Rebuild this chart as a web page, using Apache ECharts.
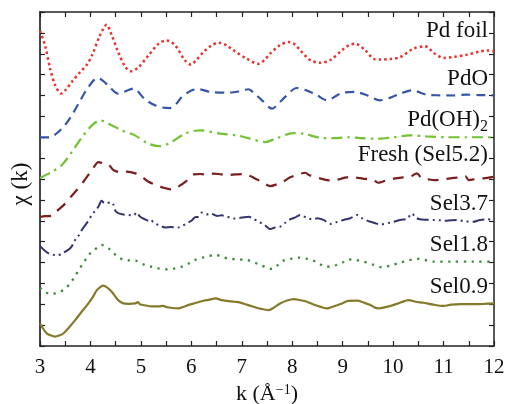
<!DOCTYPE html>
<html>
<head>
<meta charset="utf-8">
<script src="https://cdn.jsdelivr.net/npm/echarts@6/dist/echarts.min.js"></script>
<style>html,body{margin:0;padding:0;background:#fff;}#c{width:508px;height:404px;}</style>
</head>
<body>
<div id="c"></div>
<script>
const xTicks = [3,4,5,6,7,8,9,10,11,12];
const seriesNames = ['Pd foil','PdO','Pd(OH)2','Fresh (Sel5.2)','Sel3.7','Sel1.8','Sel0.9'];
const pdFoil = [[3.0,15.1],[3.1,14.4],[3.2,13.3],[3.3,12.5],[3.42,12.09],[3.52,12.3],[3.63,12.65],[3.8,13.13],[3.92,13.45],[4.03,13.92],[4.19,14.88],[4.32,15.39],[4.42,14.9],[4.55,14.08],[4.69,13.37],[4.81,13.16],[4.95,13.35],[5.15,13.92],[5.35,14.48],[5.51,14.64],[5.68,14.4],[5.87,13.69],[5.99,13.48],[6.1,13.7],[6.24,14.08],[6.4,14.4],[6.54,14.53],[6.7,14.4],[6.84,14.16],[7.1,13.76],[7.33,13.52],[7.45,13.7],[7.56,14.0],[7.75,14.4],[7.93,14.56],[8.05,14.45],[8.16,14.16],[8.36,13.69],[8.55,13.57],[8.75,13.69],[9.0,14.2],[9.12,14.4],[9.25,14.48],[9.45,14.16],[9.61,13.76],[9.74,13.72],[9.95,13.75],[10.14,13.84],[10.4,14.24],[10.63,14.36],[10.83,14.0],[11.0,13.8],[11.2,13.85],[11.46,13.95],[11.7,14.1],[11.86,14.16],[12.0,14.12]];
const pdO = [[3.0,9.99],[3.2,10.0],[3.36,10.25],[3.5,10.6],[3.63,11.05],[3.8,11.77],[3.96,12.41],[4.14,12.84],[4.25,12.7],[4.36,12.46],[4.55,12.09],[4.69,12.2],[4.85,12.33],[5.08,11.82],[5.28,11.53],[5.45,11.42],[5.58,11.4],[5.7,11.6],[5.81,11.93],[6.01,12.25],[6.14,12.3],[6.38,12.17],[6.77,12.14],[6.95,12.2],[7.13,12.3],[7.25,12.1],[7.4,11.77],[7.6,11.37],[7.72,11.6],[7.86,11.93],[8.09,12.36],[8.36,12.17],[8.5,12.0],[8.69,11.77],[8.85,11.95],[8.98,12.12],[9.25,12.17],[9.48,12.01],[9.74,11.77],[9.95,11.9],[10.14,12.09],[10.37,12.25],[10.66,12.04],[10.93,12.01],[11.2,12.0],[11.45,12.04],[11.7,12.02],[12.0,12.01]];
const pdOH2 = [[3.0,8.05],[3.23,8.34],[3.43,8.66],[3.63,9.29],[3.83,10.0],[4.03,10.57],[4.19,10.81],[4.36,10.65],[4.62,10.33],[4.88,10.09],[5.15,9.69],[5.38,9.57],[5.61,9.77],[5.87,10.17],[6.07,10.31],[6.18,10.33],[6.57,10.17],[6.9,10.09],[7.17,9.93],[7.46,9.77],[7.7,9.96],[8.02,10.2],[8.22,10.17],[8.62,9.96],[8.88,9.96],[9.11,10.0],[9.35,9.96],[9.68,9.93],[10.0,10.0],[10.33,10.09],[10.66,10.04],[11.06,10.0],[11.46,10.0],[12.0,10.0]];
const fresh = [[3.0,6.18],[3.1,6.22],[3.23,6.24],[3.35,6.5],[3.47,6.75],[3.53,6.91],[3.63,7.2],[3.73,7.47],[3.86,7.87],[4.03,8.43],[4.16,8.81],[4.26,8.74],[4.36,8.69],[4.46,8.42],[4.6,8.33],[4.72,8.35],[4.89,8.27],[5.02,8.1],[5.15,7.87],[5.31,7.71],[5.45,7.58],[5.61,7.5],[5.74,7.63],[5.9,7.9],[6.05,8.22],[6.18,8.24],[6.3,8.2],[6.42,8.26],[6.54,8.24],[6.71,8.19],[6.88,8.22],[7.04,8.24],[7.17,8.14],[7.28,8.0],[7.4,7.87],[7.56,7.66],[7.7,7.75],[7.82,7.87],[7.96,8.08],[8.1,8.2],[8.26,8.3],[8.34,8.18],[8.42,8.14],[8.55,8.03],[8.69,7.95],[8.82,7.92],[8.95,8.0],[9.08,8.08],[9.21,8.08],[9.4,8.02],[9.61,7.95],[9.71,7.82],[9.85,7.92],[10.04,8.03],[10.2,8.08],[10.35,8.12],[10.47,8.27],[10.57,8.03],[10.7,7.98],[10.83,7.95],[11.0,7.99],[11.2,8.05],[11.38,8.1],[11.43,8.14],[11.5,7.95],[11.65,8.0],[11.79,8.03],[12.0,8.11]];
const sel37 = [[3.0,4.8],[3.08,4.6],[3.17,4.44],[3.25,4.38],[3.33,4.33],[3.45,4.45],[3.6,4.68],[3.68,5.0],[3.73,5.24],[3.78,5.32],[3.83,5.56],[3.93,5.9],[4.03,6.28],[4.1,6.5],[4.16,6.68],[4.22,6.96],[4.27,6.85],[4.32,6.83],[4.4,6.9],[4.46,6.75],[4.5,6.45],[4.56,6.35],[4.65,6.3],[4.76,6.28],[4.85,6.25],[4.92,6.4],[4.98,6.2],[5.08,6.07],[5.15,6.0],[5.2,6.05],[5.25,5.91],[5.35,5.8],[5.48,5.68],[5.6,5.7],[5.74,5.68],[5.82,5.75],[5.91,5.87],[6.0,6.0],[6.07,6.16],[6.14,6.2],[6.21,6.39],[6.3,6.3],[6.38,6.35],[6.51,6.23],[6.6,6.26],[6.7,6.2],[6.84,6.11],[7.0,6.15],[7.14,6.19],[7.22,6.1],[7.34,5.95],[7.45,5.8],[7.57,5.6],[7.66,5.68],[7.76,5.72],[7.85,5.88],[7.93,6.04],[8.05,6.15],[8.16,6.28],[8.3,6.12],[8.42,6.07],[8.5,6.12],[8.62,6.04],[8.75,5.85],[8.9,5.95],[9.02,6.04],[9.15,6.12],[9.28,6.28],[9.4,6.1],[9.55,5.95],[9.65,5.88],[9.74,5.83],[9.94,5.91],[10.05,5.98],[10.14,6.04],[10.28,6.1],[10.37,6.35],[10.45,6.15],[10.53,6.07],[10.65,6.05],[10.8,6.04],[10.95,6.02],[11.06,6.0],[11.26,6.04],[11.4,5.98],[11.59,5.95],[11.7,6.02],[11.86,6.07],[12.0,6.04]];
const sel18 = [[3.0,2.8],[3.1,2.6],[3.2,2.49],[3.3,2.52],[3.4,2.6],[3.5,2.75],[3.6,3.0],[3.68,3.3],[3.77,3.64],[3.85,3.95],[3.93,4.23],[4.0,4.45],[4.09,4.63],[4.16,4.75],[4.22,4.84],[4.29,4.78],[4.36,4.68],[4.44,4.5],[4.52,4.31],[4.59,4.2],[4.66,4.12],[4.78,4.1],[4.89,4.09],[5.08,3.88],[5.2,3.8],[5.35,3.72],[5.54,3.67],[5.68,3.72],[5.81,3.8],[5.95,3.95],[6.07,4.12],[6.24,4.25],[6.48,4.36],[6.6,4.28],[6.71,4.2],[6.9,4.15],[7.1,4.12],[7.25,4.0],[7.37,3.88],[7.5,3.75],[7.6,3.69],[7.7,3.85],[7.83,4.09],[7.98,4.18],[8.13,4.23],[8.28,4.18],[8.42,4.09],[8.55,3.92],[8.65,3.8],[8.78,3.82],[8.88,3.88],[9.0,4.0],[9.11,4.15],[9.25,4.12],[9.41,4.04],[9.6,3.9],[9.78,3.77],[9.95,3.86],[10.14,3.99],[10.3,4.1],[10.47,4.18],[10.63,4.12],[10.8,4.04],[11.13,4.04],[11.6,4.04],[12.0,4.04]];
const sel09 = [[3.0,1.08],[3.13,0.61],[3.22,0.5],[3.3,0.45],[3.38,0.5],[3.47,0.61],[3.58,0.9],[3.7,1.25],[3.83,1.65],[3.96,2.04],[4.05,2.35],[4.12,2.65],[4.2,2.83],[4.26,2.89],[4.32,2.82],[4.39,2.68],[4.47,2.45],[4.55,2.2],[4.65,2.04],[4.75,2.02],[4.89,2.04],[4.94,2.1],[4.98,2.0],[5.1,1.94],[5.21,1.9],[5.35,1.9],[5.45,1.92],[5.5,1.87],[5.62,1.82],[5.74,1.8],[5.85,1.88],[5.94,1.96],[6.1,2.07],[6.24,2.17],[6.36,2.22],[6.48,2.28],[6.6,2.2],[6.71,2.16],[6.85,2.12],[6.97,2.08],[7.1,1.98],[7.23,1.88],[7.38,1.78],[7.53,1.72],[7.65,1.86],[7.76,2.04],[7.9,2.18],[8.03,2.25],[8.15,2.2],[8.29,2.12],[8.45,1.96],[8.58,1.86],[8.69,1.8],[8.8,1.88],[8.92,1.98],[9.0,2.05],[9.11,2.16],[9.28,2.17],[9.42,2.08],[9.55,1.96],[9.63,1.85],[9.71,1.8],[9.85,1.86],[10.0,1.96],[10.15,2.08],[10.3,2.2],[10.45,2.12],[10.6,2.07],[10.8,1.98],[11.0,1.92],[11.15,1.98],[11.33,2.01],[11.6,2.01],[11.8,2.02],[12.0,2.04]];

const FONT = '"Liberation Serif","Times New Roman",serif';
const chart = echarts.init(document.getElementById('c'), null, {renderer:'canvas'});

const styles = [
  {data: pdFoil, color:'#e8322c', width:2.5, type:[2.5,3]},
  {data: pdO, color:'#3556a8', width:2.2, type:[9,6]},
  {data: pdOH2, color:'#72c232', width:2.2, type:[11,5,2.5,5]},
  {data: fresh, color:'#7a1e1e', width:2.2, type:[11,8]},
  {data: sel37, color:'#34346e', width:2.0, type:[12,4,2,4,2,4]},
  {data: sel18, color:'#3c8a3c', width:2.3, type:[2.3,5.5]},
  {data: sel09, color:'#857a2a', width:2.2, type:'solid'}
];

const axisLine = {show:true, onZero:false, lineStyle:{color:'#222', width:1.5}};
const tickStyle = {show:true, inside:true, length:5, lineStyle:{color:'#222', width:1.2}};
const labelFont = '23px ' + FONT;

chart.setOption({
  animation:false,
  backgroundColor:'#fff',
  grid:{left:40, right:14, top:12, bottom:58, containLabel:false, outerBoundsMode:'none'},
  xAxis:[{
    type:'value', min:3, max:12, interval:1, position:'bottom',
    axisLine: axisLine, axisTick: tickStyle,
    minorTick:{show:true, splitNumber:2, length:5, lineStyle:{color:'#222', width:1.2}},
    splitLine:{show:false}, minorSplitLine:{show:false},
    axisLabel:{show:true, fontFamily:FONT, fontSize:21, color:'#111', margin:11},
    name:'k (Å{sup|−1})', nameLocation:'middle', nameGap:36,
    nameTextStyle:{fontFamily:FONT, fontSize:22, color:'#111', rich:{sup:{fontFamily:FONT, fontSize:14, color:'#111', verticalAlign:'top', padding:[0,0,9,0]}}}
  },{
    type:'value', min:3, max:12, interval:1, position:'top',
    axisLine: axisLine, axisTick: tickStyle,
    minorTick:{show:true, splitNumber:2, length:5, lineStyle:{color:'#222', width:1.2}},
    splitLine:{show:false}, axisLabel:{show:false}
  }],
  yAxis:[{
    type:'value', min:0, max:16, interval:1, position:'left',
    axisLine:{show:true, onZero:false, lineStyle:{color:'#444', width:2}}, axisTick: tickStyle,
    splitLine:{show:false}, axisLabel:{show:false},
    name:'χ (k)', nameLocation:'middle', nameGap:8,
    nameTextStyle:{fontFamily:FONT, fontSize:23, color:'#111', padding:[0,0,0,-10]}
  },{
    type:'value', min:0, max:16, interval:1, position:'right',
    axisLine: axisLine, axisTick: tickStyle,
    splitLine:{show:false}, axisLabel:{show:false}
  }],
  series: styles.map((s,i)=>({
    type:'line', name:seriesNames[i], data:s.data, showSymbol:false, smooth:0.3,
    xAxisIndex:0, yAxisIndex:0,
    lineStyle:{color:s.color, width:s.width, type:s.type, cap:'butt'}
  })),
  graphic: [
    {type:'text', x:488, y:31, style:{text:'Pd foil', font:labelFont, fill:'#111', align:'right', verticalAlign:'middle'}},
    {type:'text', x:488, y:79, style:{text:'PdO', font:labelFont, fill:'#111', align:'right', verticalAlign:'middle'}},
    {type:'text', x:488, y:119.5, style:{text:'Pd(OH){s|2}', font:labelFont, fill:'#111', align:'right', verticalAlign:'middle', rich:{s:{fontFamily:FONT, fontSize:16, fill:'#111', padding:[14,0,0,0]}}}},
    {type:'text', x:488, y:155, style:{text:'Fresh (Sel5.2)', font:labelFont, fill:'#111', align:'right', verticalAlign:'middle'}},
    {type:'text', x:488, y:204, style:{text:'Sel3.7', font:labelFont, fill:'#111', align:'right', verticalAlign:'middle'}},
    {type:'text', x:488, y:245, style:{text:'Sel1.8', font:labelFont, fill:'#111', align:'right', verticalAlign:'middle'}},
    {type:'text', x:488, y:287, style:{text:'Sel0.9', font:labelFont, fill:'#111', align:'right', verticalAlign:'middle'}}
  ]
});
</script>
</body>
</html>
